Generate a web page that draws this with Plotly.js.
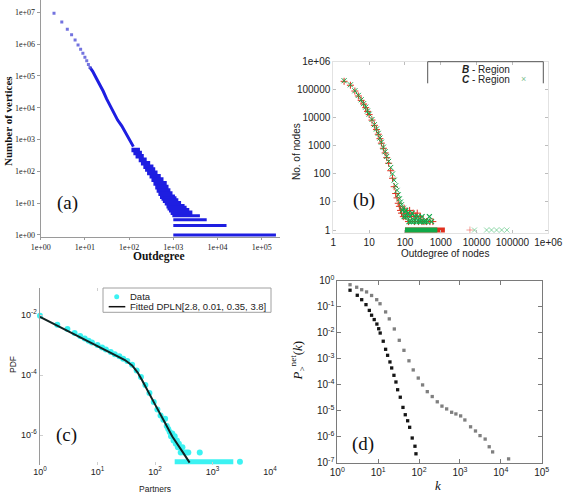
<!DOCTYPE html>
<html><head><meta charset="utf-8">
<script src="https://cdn.plot.ly/plotly-3.0.1.min.js"></script>
<style>html,body{margin:0;padding:0;background:#fff}#chart{width:565px;height:494px}</style>
</head><body><div id="chart"></div>
<script>
// ---------- Panel (a) ----------
const aDeg   = [2, 3, 4, 5, 6, 7, 8, 9, 10, 11, 12, 13];
const aCount = [9.3e6, 4.97e6, 2.93e6, 1.98e6, 1.35e6, 9.4e5, 6.9e5, 5.2e5, 3.9e5, 3.0e5, 2.3e5, 1.85e5];
const aLineDeg   = [13, 15, 18, 22, 26, 31, 37, 45, 55, 68, 82, 96, 110, 125];
const aLineCount = [1.85e5, 1.4e5, 8.6e4, 5.2e4, 3.3e4, 1.9e4, 1.2e4, 7.0e3, 4.1e3, 2.7e3, 1.7e3, 1.2e3, 850, 600];
// wide part of the cloud (counts >= 5)
const aLevelCount = [470, 380, 300, 230, 180, 140, 115, 90, 70, 55, 42, 32, 25, 20, 16, 14, 12, 10, 8, 7, 6, 5];
const aLevelMin   = [113, 125, 140, 165, 185, 210, 230, 255, 290, 320, 355, 390, 420, 460, 500, 540, 580, 640, 700, 740, 800, 870];
const aLevelMax   = [176, 195, 215, 250, 300, 355, 390, 440, 520, 600, 710, 780, 860, 960, 1090, 1180, 1300, 1500, 1800, 2000, 2300, 2700];
// separate low-count bands
const aBandCount = [4, 3, 2, 1];
const aBandMin   = [950, 1000, 1000, 1000];
const aBandMax   = [4000, 5700, 16000, 210000];
const aXTickVals = [1, 10, 100, 1e3, 1e4, 1e5];
const aXTicks = ['1e+00', '1e+01', '1e+02', '1e+03', '1e+04', '1e+05'];
const aYTickVals = [1, 10, 100, 1e3, 1e4, 1e5, 1e6, 1e7];
const aYTicks = ['1e+00', '1e+01', '1e+02', '1e+03', '1e+04', '1e+05', '1e+06', '1e+07'];

// ---------- Panel (b) ----------
const bDegB   = [2, 3, 4, 5, 6, 7, 8, 9, 10, 12, 14, 16, 18, 20, 22, 25, 28, 31, 35, 40, 45, 50, 55, 60, 65, 70, 75, 80, 90];
const bCountB = [2.0e5, 1.45e5, 9.0e4, 6.0e4, 4.2e4, 3.1e4, 2.3e4, 1.7e4, 1.3e4, 8.3e3, 5.4e3, 3.8e3, 2.6e3, 1.8e3, 1.25e3, 820, 560, 380, 240, 130, 70, 35, 20, 14, 9, 7, 5, 4, 3];
const bDegC   = [2, 3, 4, 5, 6, 7, 8, 9, 10, 12, 14, 16, 18, 20, 22, 25, 28, 31, 35, 40, 45, 50, 55, 60, 65, 70, 75, 80, 90, 100];
const bCountC = [2.1e5, 1.5e5, 9.2e4, 6.3e4, 4.4e4, 3.2e4, 2.4e4, 1.75e4, 1.35e4, 8.7e3, 5.7e3, 4.0e3, 2.8e3, 1.9e3, 1.35e3, 900, 620, 420, 280, 170, 100, 60, 38, 26, 18, 13, 10, 8, 6, 4.5];
const bTailDegB   = [95, 105, 115, 125, 135, 150, 170, 185, 200, 220, 240, 270, 300, 340, 400, 500, 600];
const bTailCountB = [6, 3, 4, 2, 5, 3, 4, 2, 3, 4, 2, 3, 2, 2, 2, 2, 2];
const bTailDegC   = [85, 95, 105, 110, 120, 130, 140, 150, 160, 175, 190, 210, 230, 250, 280, 300, 330, 370, 420, 480, 550];
const bTailCountC = [5, 3, 5, 3, 4, 2, 3, 2, 4, 2, 3, 2, 3, 2, 2, 3, 2, 2, 2, 3, 2];
const bFarDegB = [6500];
const bFarDegC = [8700, 19000, 26000, 36000, 50000, 70000];
const bOneDegB = [100, 1300];
const bOneDegC = [100, 800];
const bTickVals = [1, 10, 100, 1e3, 1e4, 1e5, 1e6];
const bTicks = ['1', '10', '100', '1000', '10000', '100000', '1e+06'];

// ---------- Panel (c) ----------
const cPartners = [1, 2, 3, 4, 5, 6, 7, 8, 10, 12, 14, 17, 20, 24, 28, 33, 40, 48, 57, 68, 80, 95, 110, 125, 140, 150, 160, 170, 180, 190, 200, 210, 220, 230, 240, 250, 260, 280, 300, 320, 350, 380, 600];
const cPdf = [9.5e-3, 4.7e-3, 3.4e-3, 2.5e-3, 2.0e-3, 1.66e-3, 1.38e-3, 1.2e-3, 1.0e-3, 8.3e-4, 7.1e-4, 5.8e-4, 4.9e-4, 4.2e-4, 3.5e-4, 2.95e-4, 2.2e-4, 1.4e-4, 8.5e-5, 4.6e-5, 2.5e-5, 1.26e-5, 7.1e-6, 4.5e-6, 3.2e-6, 3.5e-6, 2.0e-6, 1.6e-6, 1.26e-6, 9.1e-7, 1.12e-6, 6.5e-7, 9.1e-7, 5.1e-7, 6.5e-7, 3.9e-7, 5.1e-7, 2.6e-7, 3.9e-7, 2.6e-7, 2.6e-7, 2.6e-7, 2.6e-7];
const cOnePartners = [220, 2300];
const cOnePdf = [1.29e-7, 1.29e-7];
const cFarPartners = [3000];
const cFarPdf = [1.29e-7];
const cFitPartners = [1, 2, 5, 10, 20, 30, 40, 50, 60, 80, 100, 150, 200, 300, 400];
const cFitPdf = [8.7e-3, 4.47e-3, 1.82e-3, 9.3e-4, 4.8e-4, 3.16e-4, 2.09e-4, 1.2e-4, 6.6e-5, 2.5e-5, 1.05e-5, 2.5e-6, 8.9e-7, 2.8e-7, 1.2e-7];
const cXTickVals = [1, 10, 100, 1e3, 1e4];
const cXTicks = ['10<sup>0</sup>', '10<sup>1</sup>', '10<sup>2</sup>', '10<sup>3</sup>', '10<sup>4</sup>'];
const cYTickVals = [1e-6, 1e-4, 1e-2];
const cYTicks = ['10<sup>-6</sup>', '10<sup>-4</sup>', '10<sup>-2</sup>'];

// ---------- Panel (d) ----------
const dK1 = [2.05, 3.08, 3.95, 5.03, 6.07, 6.9, 8.0, 9.3, 10.3, 11.2, 13.3, 15.2, 17, 19.4, 21.4, 24.3, 27.2, 29.9, 34.7, 40.4, 46, 52.6, 58.9, 68, 79.4, 84];
const dP1 = [0.43, 0.275, 0.186, 0.12, 0.072, 0.047, 0.032, 0.0215, 0.0142, 0.0097, 0.0047, 0.0023, 1.35e-3, 7.5e-4, 4.4e-4, 2.3e-4, 1.27e-4, 6.4e-5, 3.3e-5, 1.34e-5, 7e-6, 4.1e-6, 2.3e-6, 8.9e-7, 4.3e-7, 2.2e-7];
const dK2 = [2.05, 2.98, 3.95, 5.2, 6.9, 9.2, 11.1, 15.2, 18.7, 24.8, 32.8, 42.7, 56.6, 72, 95.6, 122, 159, 210, 279, 363, 473, 627, 796, 1040, 1320, 1820, 2400, 3100, 4140, 5200, 6300, 15500];
const dP2 = [0.70, 0.56, 0.45, 0.37, 0.27, 0.186, 0.13, 0.063, 0.034, 0.0139, 0.0051, 0.0021, 8.3e-4, 3.7e-4, 1.8e-4, 9.8e-5, 5.4e-5, 3.5e-5, 2.2e-5, 1.5e-5, 1.17e-5, 8.7e-6, 7.5e-6, 6.3e-6, 4.4e-6, 2.4e-6, 1.66e-6, 1.1e-6, 8.1e-7, 4.1e-7, 2.6e-7, 1.4e-7];
const dXTickVals = [1, 10, 100, 1e3, 1e4, 1e5];
const dXTicks = ['10<sup>0</sup>', '10<sup>1</sup>', '10<sup>2</sup>', '10<sup>3</sup>', '10<sup>4</sup>', '10<sup>5</sup>'];
const dYTickVals = [1e-7, 1e-6, 1e-5, 1e-4, 1e-3, 1e-2, 1e-1, 1];
const dYTicks = ['10<sup>-7</sup>', '10<sup>-6</sup>', '10<sup>-5</sup>', '10<sup>-4</sup>', '10<sup>-3</sup>', '10<sup>-2</sup>', '10<sup>-1</sup>', '10<sup>0</sup>'];

// ---------- build ----------
const W = 565, H = 494;
const fx = v => v / W, fy = v => 1 - v / H;
const SERIF = 'Liberation Serif, Times New Roman, serif';
const SANS = 'Liberation Sans, Arial, sans-serif';
const BLUE = 'rgb(30,30,225)';

function segments(counts, mins, maxs) {
  const x = [], y = [];
  counts.forEach((c, i) => { x.push(mins[i], maxs[i], null); y.push(c, c, null); });
  return {x, y};
}
const segWide = segments(aLevelCount, aLevelMin, aLevelMax);
const segLow = segments(aBandCount, aBandMin, aBandMax);
const ones = arr => arr.map(() => 1);

const traces = [
  {x: aLineDeg, y: aLineCount, mode: 'lines', line: {color: BLUE, width: 3}, xaxis: 'x', yaxis: 'y'},
  {x: segWide.x, y: segWide.y, mode: 'lines', connectgaps: false, line: {color: BLUE, width: 4.6}, xaxis: 'x', yaxis: 'y'},
  {x: segLow.x, y: segLow.y, mode: 'lines', connectgaps: false, line: {color: BLUE, width: 3}, xaxis: 'x', yaxis: 'y'},
  {x: aDeg, y: aCount, mode: 'markers', marker: {symbol: 'square', size: 3, color: 'rgba(80,80,215,0.8)'}, xaxis: 'x', yaxis: 'y'},

  {x: bOneDegB, y: ones(bOneDegB), mode: 'lines', line: {color: '#e0301e', width: 5}, xaxis: 'x2', yaxis: 'y2'},
  {x: bDegB, y: bCountB, mode: 'markers', cliponaxis: false, marker: {symbol: 'cross-thin', size: 5, line: {color: '#e0301e', width: 1}}, xaxis: 'x2', yaxis: 'y2'},
  {x: bTailDegB, y: bTailCountB, mode: 'markers', cliponaxis: false, marker: {symbol: 'cross-thin', size: 5, line: {color: '#e0301e', width: 1}}, xaxis: 'x2', yaxis: 'y2'},
  {x: bFarDegB, y: ones(bFarDegB), mode: 'markers', cliponaxis: false, marker: {symbol: 'cross-thin', size: 5, line: {color: 'rgba(224,48,30,0.45)', width: 1}}, xaxis: 'x2', yaxis: 'y2'},
  {x: bOneDegC, y: ones(bOneDegC), mode: 'lines', line: {color: '#10a848', width: 5}, xaxis: 'x2', yaxis: 'y2'},
  {x: bDegC, y: bCountC, mode: 'markers', cliponaxis: false, marker: {symbol: 'x-thin', size: 5, line: {color: '#10a848', width: 1}}, xaxis: 'x2', yaxis: 'y2'},
  {x: bTailDegC, y: bTailCountC, mode: 'markers', cliponaxis: false, marker: {symbol: 'x-thin', size: 5, line: {color: '#10a848', width: 1.2}}, xaxis: 'x2', yaxis: 'y2'},
  {x: bFarDegC, y: ones(bFarDegC), mode: 'markers', cliponaxis: false, marker: {symbol: 'x-thin', size: 5, line: {color: 'rgba(16,168,72,0.45)', width: 1}}, xaxis: 'x2', yaxis: 'y2'},

  {x: cOnePartners, y: cOnePdf, mode: 'lines', line: {color: '#3cf2f2', width: 5}, xaxis: 'x3', yaxis: 'y3'},
  {x: cFarPartners, y: cFarPdf, mode: 'markers', cliponaxis: false, marker: {symbol: 'circle', size: 6, color: '#3cf2f2'}, xaxis: 'x3', yaxis: 'y3'},
  {x: cPartners, y: cPdf, mode: 'markers', cliponaxis: false, marker: {symbol: 'circle', size: 6, color: '#3cf2f2'}, xaxis: 'x3', yaxis: 'y3'},
  {x: cFitPartners, y: cFitPdf, mode: 'lines', line: {color: '#102222', width: 2}, xaxis: 'x3', yaxis: 'y3'},

  {x: dK2, y: dP2, mode: 'markers', cliponaxis: false, marker: {symbol: 'square', size: 3.3, color: '#7f7f7f'}, xaxis: 'x4', yaxis: 'y4'},
  {x: dK1, y: dP1, mode: 'markers', cliponaxis: false, marker: {symbol: 'square', size: 3.3, color: '#151515'}, xaxis: 'x4', yaxis: 'y4'}
];
traces.forEach(t => { t.type = 'scatter'; t.showlegend = false; t.hoverinfo = 'skip'; });

const baseAx = {type: 'log', showgrid: false, zeroline: false, fixedrange: true};
const layout = {
  width: W, height: H, margin: {l: 0, r: 0, t: 0, b: 0},
  paper_bgcolor: '#fff', plot_bgcolor: 'rgba(0,0,0,0)',
  font: {family: SANS, color: '#222'},
  showlegend: false,
  xaxis: Object.assign({}, baseAx, {domain: [fx(40.7), fx(280)], range: [0, 5.414], anchor: 'y',
    tickmode: 'array', tickvals: aXTickVals, ticktext: aXTicks, tickfont: {family: SERIF, size: 8, color: '#222'},
    showline: true, linecolor: '#9a9a9a', linewidth: 1, ticks: 'outside', ticklen: 2, tickcolor: '#9a9a9a'}),
  yaxis: Object.assign({}, baseAx, {domain: [fy(236.9), 1], range: [-0.06, 7.388], anchor: 'x',
    tickmode: 'array', tickvals: aYTickVals, ticktext: aYTicks, tickfont: {family: SERIF, size: 8, color: '#222'},
    showline: true, linecolor: '#9a9a9a', linewidth: 1, ticks: 'outside', ticklen: 3, tickcolor: '#9a9a9a'}),

  xaxis2: Object.assign({}, baseAx, {domain: [fx(333.3), fx(548.3)], range: [0, 6], anchor: 'y2',
    tickmode: 'array', tickvals: bTickVals, ticktext: bTicks, tickfont: {family: SANS, size: 10, color: '#222'},
    showline: true, linecolor: '#e2e2e2', mirror: 'ticks', ticks: 'inside', ticklen: 3, tickcolor: '#bdbdbd'}),
  yaxis2: Object.assign({}, baseAx, {domain: [fy(233.4), fy(61.7)], range: [-0.12, 6], anchor: 'x2',
    tickmode: 'array', tickvals: bTickVals, ticktext: bTicks, tickfont: {family: SANS, size: 10, color: '#222'},
    showline: true, linecolor: '#e2e2e2', mirror: 'ticks', ticks: 'inside', ticklen: 3, tickcolor: '#bdbdbd'}),

  xaxis3: Object.assign({}, baseAx, {domain: [fx(40), fx(270)], range: [0, 4], anchor: 'y3',
    tickmode: 'array', tickvals: cXTickVals, ticktext: cXTicks, tickfont: {family: SANS, size: 9, color: '#222'},
    showline: false, mirror: 'ticks', ticks: 'inside', ticklen: 3, tickcolor: '#cfcfcf'}),
  yaxis3: Object.assign({}, baseAx, {domain: [fy(465), fy(288)], range: [-7.0, -1.1], anchor: 'x3',
    tickmode: 'array', tickvals: cYTickVals, ticktext: cYTicks, tickfont: {family: SANS, size: 9, color: '#222'},
    showline: true, linecolor: '#9a9a9a', linewidth: 1.5, mirror: false, ticks: 'inside', ticklen: 3, tickcolor: '#cfcfcf'}),

  xaxis4: Object.assign({}, baseAx, {domain: [fx(337.3), fx(541.7)], range: [0, 5], anchor: 'y4',
    tickmode: 'array', tickvals: dXTickVals, ticktext: dXTicks, tickfont: {family: SANS, size: 10, color: '#222'},
    showline: true, linecolor: '#7a7a7a', mirror: 'ticks', ticks: 'inside', ticklen: 4, tickcolor: '#7a7a7a'}),
  yaxis4: Object.assign({}, baseAx, {domain: [fy(462.7), fy(280.7)], range: [-7, 0], anchor: 'x4',
    tickmode: 'array', tickvals: dYTickVals, ticktext: dYTicks, tickfont: {family: SANS, size: 10, color: '#222'},
    showline: true, linecolor: '#7a7a7a', mirror: 'ticks', ticks: 'inside', ticklen: 4, tickcolor: '#7a7a7a'}),

  shapes: [
    {type: 'path', xref: 'paper', yref: 'paper', layer: 'above',
      path: `M ${fx(427.7)} ${fy(83.3)} L ${fx(427.7)} ${fy(61.7)} L ${fx(543.3)} ${fy(61.7)} L ${fx(543.3)} ${fy(83.3)}`,
      line: {color: '#555', width: 1}},
    {type: 'rect', xref: 'paper', yref: 'paper', layer: 'above',
      x0: fx(103), x1: fx(271), y0: fy(312.3), y1: fy(288), fillcolor: '#fff', line: {color: '#a0a0a0', width: 1}},
    {type: 'line', xref: 'paper', yref: 'paper', layer: 'above',
      x0: fx(108.7), x1: fx(125.3), y0: fy(306.7), y1: fy(306.7), line: {color: '#111', width: 1.5}},
    {type: 'circle', xref: 'paper', yref: 'paper', layer: 'above',
      x0: fx(114.2), x1: fx(119.2), y0: fy(299.2), y1: fy(294.2), fillcolor: '#3cf2f2', line: {width: 0}}
  ],
  annotations: [
    {text: '(a)', x: fx(67.5), y: fy(202.5), font: {family: SERIF, size: 19, color: '#111'}},
    {text: '(b)', x: fx(364), y: fy(200), font: {family: SERIF, size: 19, color: '#111'}},
    {text: '(c)', x: fx(66.7), y: fy(435), font: {family: SERIF, size: 19, color: '#111'}},
    {text: '(d)', x: fx(363), y: fy(443.5), font: {family: SERIF, size: 19, color: '#111'}},
    {text: '<b>Number of vertices</b>', x: fx(8), y: fy(121), textangle: -90, font: {family: SERIF, size: 11, color: '#111'}},
    {text: '<b>Outdegree</b>', x: fx(159), y: fy(256.5), font: {family: SERIF, size: 11.5, color: '#111'}},
    {text: 'No. of nodes', x: fx(296), y: fy(152), textangle: -90, font: {family: SANS, size: 10, color: '#222'}},
    {text: 'Outdegree of nodes', x: fx(445), y: fy(253), font: {family: SANS, size: 10, color: '#222'}},
    {text: '<b><i>B</i></b> - Region', x: fx(511.7), y: fy(69.3), xanchor: 'right', font: {family: SANS, size: 10, color: '#222'}},
    {text: '<b><i>C</i></b> - Region', x: fx(511.7), y: fy(79.3), xanchor: 'right', font: {family: SANS, size: 10, color: '#222'}},
    {text: '×', x: fx(523.5), y: fy(79.3), font: {family: SANS, size: 9, color: '#7fbf90'}},
    {text: 'PDF', x: fx(13), y: fy(365), textangle: -90, font: {family: SANS, size: 8.5, color: '#222'}},
    {text: 'Partners', x: fx(155), y: fy(489), font: {family: SANS, size: 8.5, color: '#222'}},
    {text: 'Data', x: fx(128), y: fy(296.7), xanchor: 'left', font: {family: SANS, size: 9.5, color: '#222'}},
    {text: 'Fitted DPLN[2.8, 0.01, 0.35, 3.8]', x: fx(128), y: fy(306.7), xanchor: 'left', font: {family: SANS, size: 9.5, color: '#222'}},
    {text: '<i>P</i><sub>></sub><sup>net</sup>(<i>k</i>)', x: fx(297.5), y: fy(361), textangle: -90, font: {family: SERIF, size: 13, color: '#111'}},
    {text: '<i>k</i>', x: fx(438.3), y: fy(485.5), font: {family: SERIF, size: 13, color: '#111'}}
  ].map(a => Object.assign({xref: 'paper', yref: 'paper', showarrow: false, xanchor: 'center', yanchor: 'middle'}, a))
};

Plotly.newPlot('chart', traces, layout, {displayModeBar: false, staticPlot: true});
</script>
</body></html>
